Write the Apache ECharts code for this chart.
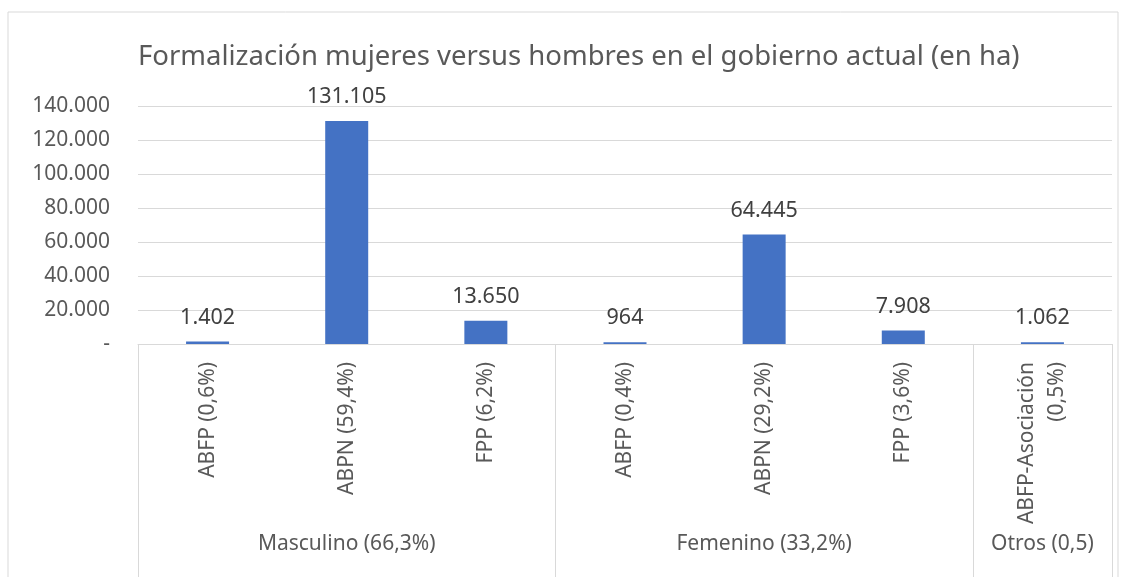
<!DOCTYPE html>
<html>
<head>
<meta charset="utf-8">
<script src="https://cdn.jsdelivr.net/npm/echarts@6/dist/echarts.min.js"></script>
<style>
  html, body { margin: 0; padding: 0; background: #fff; }
  #chart { width: 1124px; height: 577px; }
</style>
</head>
<body>
<div id="chart"></div>
<script>
// categorias y valores (ha)
var categorias = ['ABFP (0,6%)', 'ABPN (59,4%)', 'FPP (6,2%)', 'ABFP (0,4%)', 'ABPN (29,2%)', 'FPP (3,6%)', 'ABFP-Asociación\n(0,5%)'];
var valores = [1402, 131105, 13650, 964, 64445, 7908, 1062];
// grupos: nombre mostrado en la categoria central de cada grupo
var grupos = ['', 'Masculino (66,3%)', '', '', 'Femenino (33,2%)', '', 'Otros (0,5)'];
var inicioGrupo = [0, 3, 6];

function miles(n) {
    var s = Math.round(n).toString();
    return s.replace(/\B(?=(\d{3})+(?!\d))/g, '.');
}

var option = {
    animation: false,
    textStyle: { fontFamily: 'Noto Sans' },
    title: {
        text: 'Formalización mujeres versus hombres en el gobierno actual (en ha)',
        left: 133,
        top: 38,
        textStyle: { fontSize: 27.5, fontWeight: 'normal', color: '#595959', fontFamily: 'Noto Sans' }
    },
    graphic: [{
        type: 'rect',
        shape: { x: 8, y: 12, width: 1110, height: 600 },
        style: { fill: 'none', stroke: '#d9d9d9', lineWidth: 1 },
        silent: true
    }],
    grid: { left: 138, right: 12, top: 106, bottom: 233 },
    xAxis: [{
        type: 'category',
        data: categorias,
        axisLine: { lineStyle: { color: '#d9d9d9' } },
        axisTick: {
            show: true,
            length: 233,
            interval: function (i) { return inicioGrupo.indexOf(i) >= 0; },
            lineStyle: { color: '#d9d9d9' }
        },
        axisLabel: {
            rotate: 90,
            interval: 0,
            margin: 18,
            fontSize: 21,
            color: '#595959',
            lineHeight: 30
        }
    }, {
        type: 'category',
        data: grupos,
        position: 'bottom',
        offset: 188,
        axisLine: { show: false },
        axisTick: { show: false },
        axisLabel: { interval: 0, margin: 2, fontSize: 21, color: '#595959' }
    }],
    yAxis: {
        type: 'value',
        min: 0,
        max: 140000,
        interval: 20000,
        axisLine: { show: false },
        axisTick: { show: false },
        splitLine: { lineStyle: { color: '#d9d9d9' } },
        axisLabel: {
            margin: 28,
            fontSize: 21,
            color: '#595959',
            formatter: function (v) { return v === 0 ? '-' : miles(v); }
        }
    },
    series: [{
        type: 'bar',
        data: valores,
        barWidth: 43,
        itemStyle: { color: '#4472C4' },
        label: {
            show: true,
            position: 'top',
            distance: 13,
            fontSize: 21.5,
            color: '#404040',
            formatter: function (p) { return miles(p.value); }
        }
    }]
};

var myChart = echarts.init(document.getElementById('chart'));
myChart.setOption(option);
</script>
</body>
</html>
